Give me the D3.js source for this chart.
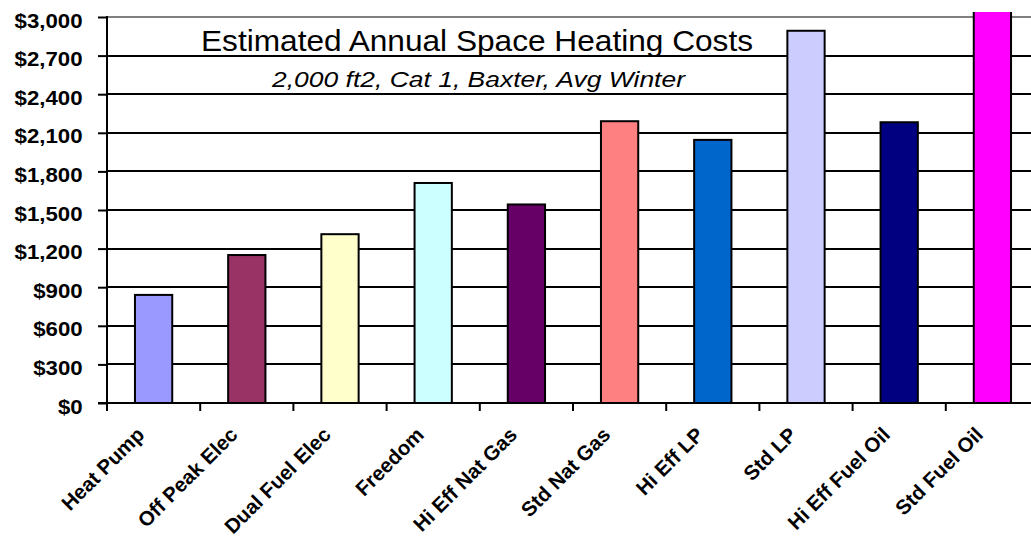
<!DOCTYPE html>
<html>
<head>
<meta charset="utf-8">
<script src="https://d3js.org/d3.v7.min.js"></script>
<style>
  html, body { margin: 0; padding: 0; background: #ffffff; }
  svg { display: block; }
</style>
</head>
<body>
<div id="chart"></div>
<script>
// chart data
var categories = ["Heat Pump", "Off Peak Elec", "Dual Fuel Elec", "Freedom", "Hi Eff Nat Gas",
                  "Std Nat Gas", "Hi Eff LP", "Std LP", "Hi Eff Fuel Oil", "Std Fuel Oil"];
var costs = [840, 1150, 1312, 1710, 1543, 2190, 2045, 2893, 2182, 3100];
var barColors = ["#9999FF", "#993366", "#FFFFCC", "#CCFFFF", "#660066",
                 "#FF8080", "#0066CC", "#CCCCFF", "#000080", "#FF00FF"];
var yTicks = [0, 300, 600, 900, 1200, 1500, 1800, 2100, 2400, 2700, 3000];
var title = "Estimated Annual Space Heating Costs";
var subtitle = "2,000 ft2, Cat 1, Baxter, Avg Winter";

var width = 1031, height = 541;
var plotLeft = 107, plotTop = 17, plotBottom = 403;

var svg = d3.select("#chart").append("svg")
    .attr("width", width)
    .attr("height", height);

var x = d3.scaleBand()
    .domain(categories)
    .range([plotLeft, plotLeft + 932])
    .paddingInner(0.6)
    .paddingOuter(0.3);

var y = d3.scaleLinear()
    .domain([0, 3000])
    .range([plotBottom, plotTop]);

// clip - the tallest bar runs off the top of the picture
svg.append("clipPath").attr("id", "plotclip")
    .append("rect")
    .attr("x", plotLeft)
    .attr("y", 12)
    .attr("width", width - plotLeft)
    .attr("height", plotBottom - 12 + 2);

// gridlines
svg.append("g")
    .selectAll("line")
    .data(yTicks.filter(function(d) { return d > 0; }))
    .enter().append("line")
    .attr("x1", plotLeft)
    .attr("x2", width)
    .attr("y1", function(d) { return Math.round(y(d)); })
    .attr("y2", function(d) { return Math.round(y(d)); })
    .style("stroke", function(d) { return d == 3000 ? "#808080" : "#000000"; })
    .style("stroke-width", 2);

// bars
svg.append("g")
    .attr("clip-path", "url(#plotclip)")
    .selectAll("rect")
    .data(costs)
    .enter().append("rect")
    .attr("x", function(d, i) { return x(categories[i]); })
    .attr("y", function(d) { return y(d); })
    .attr("width", x.bandwidth())
    .attr("height", function(d) { return y(0) - y(d); })
    .style("fill", function(d, i) { return barColors[i]; })
    .style("stroke", "#000000")
    .style("stroke-width", 2);

// y axis
var yAxis = svg.append("g")
    .attr("transform", "translate(" + plotLeft + ",0)")
    .call(d3.axisLeft(y)
        .tickValues(yTicks)
        .tickSize(9)
        .tickPadding(15)
        .tickFormat(function(d) { return "$" + d3.format(",")(d); }));
yAxis.select(".domain").remove();
yAxis.selectAll(".tick line").style("stroke", "#000000").style("stroke-width", 2);
yAxis.selectAll(".tick text")
    .attr("x", -23)
    .attr("dy", "0.48em")
    .attr("transform", "scale(1.06,1)")
    .style("font-family", "'Liberation Sans', Arial, sans-serif")
    .style("font-weight", "bold")
    .style("font-size", "21px")
    .style("fill", "#000000");

svg.append("line")
    .attr("x1", plotLeft).attr("x2", plotLeft)
    .attr("y1", y(3000) - 1).attr("y2", plotBottom + 1)
    .style("stroke", "#000000")
    .style("stroke-width", 2);

// x axis line + ticks at category boundaries
svg.append("line")
    .attr("x1", plotLeft - 9).attr("x2", width)
    .attr("y1", plotBottom).attr("y2", plotBottom)
    .style("stroke", "#000000")
    .style("stroke-width", 2);

svg.append("g")
    .selectAll("line")
    .data(categories)
    .enter().append("line")
    .attr("x1", function(d) { return x(d) - x.step() * x.paddingOuter(); })
    .attr("x2", function(d) { return x(d) - x.step() * x.paddingOuter(); })
    .attr("y1", plotBottom)
    .attr("y2", plotBottom + 8)
    .style("stroke", "#000000")
    .style("stroke-width", 2);

// category labels, rotated
svg.append("g")
    .selectAll("text")
    .data(categories)
    .enter().append("text")
    .attr("transform", function(d) {
        return "translate(" + (x(d) + x.bandwidth() / 2 - 8) + "," + 436 + ") rotate(-45)";
    })
    .attr("text-anchor", "end")
    .style("font-family", "'Liberation Sans', Arial, sans-serif")
    .style("font-weight", "bold")
    .style("font-size", "20.5px")
    .style("fill", "#000000")
    .text(function(d) { return d; });

// titles
svg.append("text")
    .attr("x", 201)
    .attr("y", 51)
    .attr("textLength", 552)
    .attr("lengthAdjust", "spacingAndGlyphs")
    .style("font-family", "'Liberation Sans', Arial, sans-serif")
    .style("font-size", "29.5px")
    .style("fill", "#000000")
    .text(title);

svg.append("text")
    .attr("x", 272)
    .attr("y", 87)
    .attr("textLength", 413)
    .attr("lengthAdjust", "spacingAndGlyphs")
    .style("font-family", "'Liberation Sans', Arial, sans-serif")
    .style("font-style", "italic")
    .style("font-size", "22px")
    .style("fill", "#000000")
    .text(subtitle);
</script>
</body>
</html>
